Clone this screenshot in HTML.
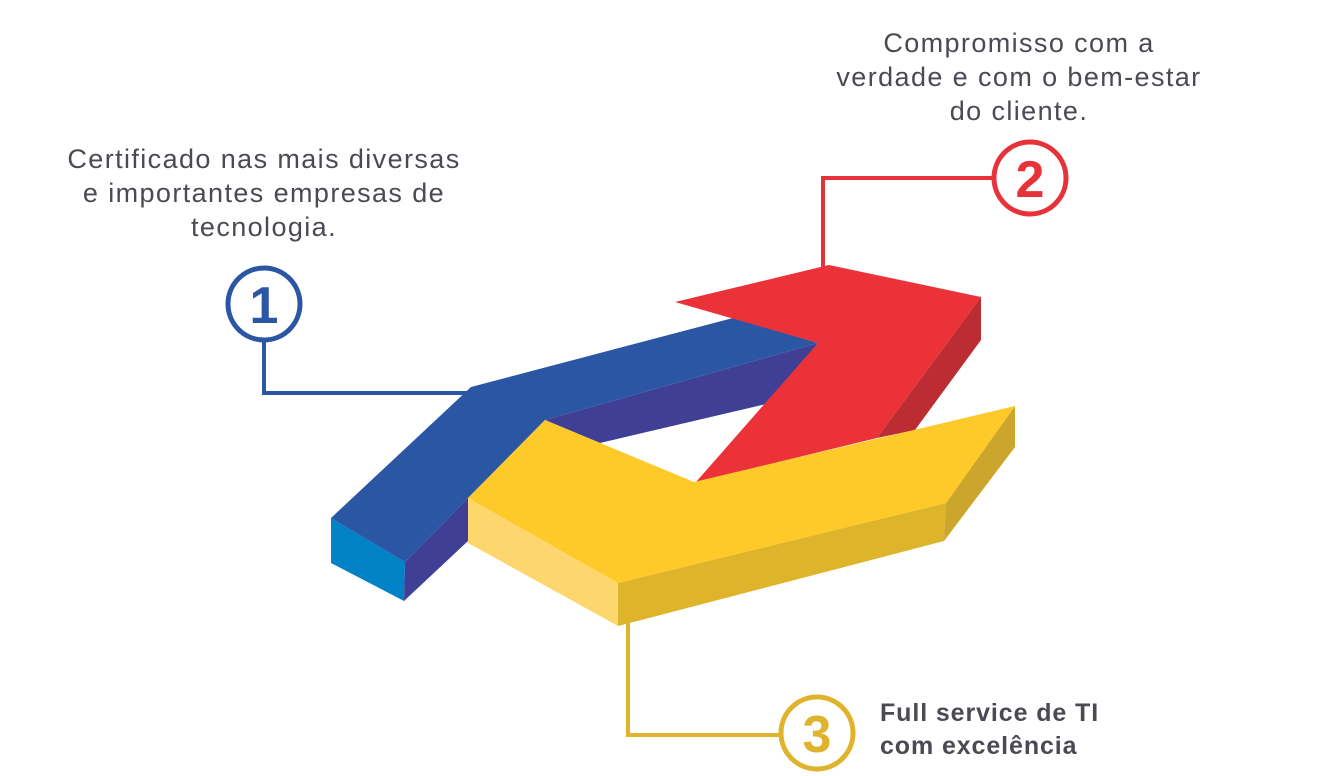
<!DOCTYPE html>
<html><head><meta charset="utf-8"><style>
html,body{margin:0;padding:0;background:#fff;width:1319px;height:776px;overflow:hidden}
svg{display:block}
text{font-family:"Liberation Sans",sans-serif;fill:#4a4a52}
</style></head><body>
<svg width="1319" height="776" viewBox="0 0 1319 776">
<!-- connectors -->
<polyline points="264,340 264,393 472,393" fill="none" stroke="#2a56a3" stroke-width="4"/>
<polyline points="823,268 823,178 994,178" fill="none" stroke="#e8323a" stroke-width="4"/>
<polyline points="628,620 628,735 781,735" fill="none" stroke="#e0b32c" stroke-width="4"/>
<!-- blue -->
<polygon points="818,343 811,352 766,404 600,443 545,420" fill="#3f4095"/>
<polygon points="331,518 405,562 404,601 331,563" fill="#0282c6"/>
<polygon points="405,562 468,498 468,541 404,601" fill="#3f4095"/>
<polygon points="471,387 733,318 818,343 545,420 468,498 405,562 331,518" fill="#2a56a3"/>
<!-- red -->
<polygon points="981,297 981,340 915,430 877,438" fill="#bc2c33"/>
<polygon points="675,302 829,265 981,297 877,438 696,482 818,343" fill="#eb3238"/>
<!-- yellow -->
<polygon points="468,498 618,583 618,626 468,543" fill="#fed66e"/>
<polygon points="618,583 946,503 944,541 618,626" fill="#deb42a"/>
<polygon points="946,503 1015,406 1015,447 944,541" fill="#cba52c"/>
<polygon points="545,420 694,482 1015,406 946,503 618,583 468,498" fill="#fdca29"/>
<!-- circles -->
<circle cx="264" cy="304" r="36" fill="#fff" stroke="#2a56a3" stroke-width="5"/>
<text x="264" y="323" text-anchor="middle" font-size="52" font-weight="bold" style="fill:#2a56a3">1</text>
<circle cx="1030" cy="178" r="36" fill="#fff" stroke="#e8323a" stroke-width="5"/>
<text x="1030" y="197" text-anchor="middle" font-size="52" font-weight="bold" style="fill:#e8323a">2</text>
<circle cx="817" cy="733" r="36" fill="#fff" stroke="#e0b32c" stroke-width="5"/>
<text x="817" y="752" text-anchor="middle" font-size="52" font-weight="bold" style="fill:#e0b32c">3</text>
<!-- labels -->
<g font-size="27" text-anchor="middle" letter-spacing="1.4">
<text x="264" y="168">Certificado nas mais diversas</text>
<text x="264" y="202">e importantes empresas de</text>
<text x="264" y="236">tecnologia.</text>
<text x="1019" y="52">Compromisso com a</text>
<text x="1019" y="86">verdade e com o bem-estar</text>
<text x="1019" y="120">do cliente.</text>
</g>
<g font-size="25" font-weight="bold" letter-spacing="0.9">
<text x="880" y="721">Full service de TI</text>
<text x="880" y="754">com excelência</text>
</g>
</svg>
</body></html>
